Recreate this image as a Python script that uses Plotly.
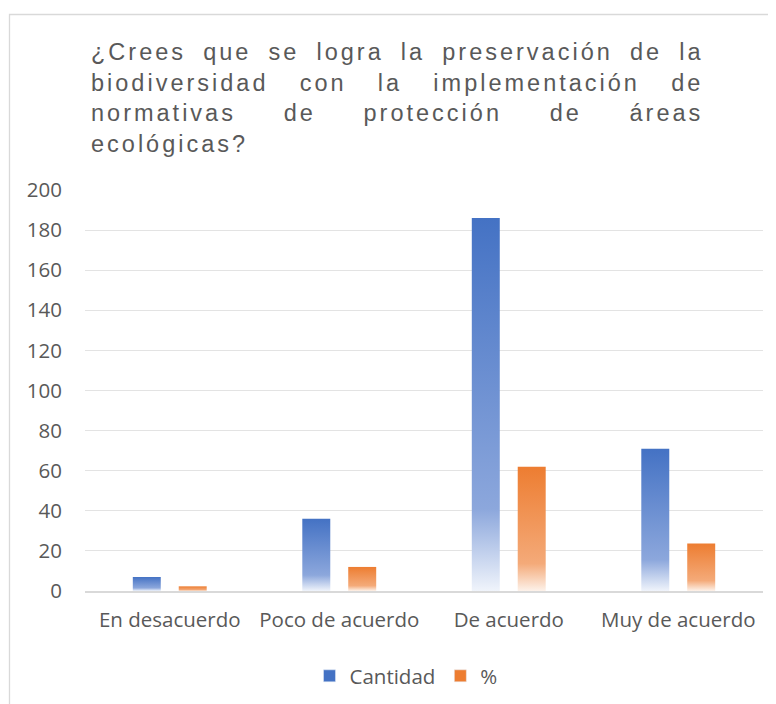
import plotly.graph_objects as go

# ---- data ----
categories = ["En desacuerdo", "Poco de acuerdo", "De acuerdo", "Muy de acuerdo"]
cantidad = [7, 36, 186, 71]
porcentaje = [2.33, 12.0, 62.0, 23.67]
y_ticks = [0, 20, 40, 60, 80, 100, 120, 140, 160, 180, 200]
series_names = ["Cantidad", "%"]

title_lines = [
    "¿Crees que se logra la preservación de la",
    "biodiversidad con la implementación de",
    "normativas de protección de áreas",
    "ecológicas?",
]

# ---- layout geometry (page pixels; the page body has an 8px margin) ----
OFF = 8
W, H = 776 - OFF, 704 - OFF
PLOT_L, PLOT_R, PLOT_T, PLOT_B = 85, 763, 190, 591
ML, MT = PLOT_L - OFF, PLOT_T - OFF
PW, PH = PLOT_R - PLOT_L, PLOT_B - PLOT_T
MR, MB = W - ML - PW, H - MT - PH

BLUE_SCALE = [[0, "rgb(240,244,251)"], [0.22, "rgb(140,167,220)"], [1, "rgb(68,114,196)"]]
ORANGE_SCALE = [[0, "rgb(253,242,234)"], [0.22, "rgb(244,170,121)"], [1, "rgb(237,125,49)"]]
BAR_W = 0.165
HALF_GAP = 0.053
TXT = "#595959"
TICK_FONT = dict(family="Open Sans, Noto Sans, sans-serif", size=20.5, color=TXT)


def px_x(p):
    return (p - PLOT_L) / PW


def px_y(p):
    return (PLOT_B - p) / PH


fig = go.Figure()

series = [(cantidad, BLUE_SCALE, -1), (porcentaje, ORANGE_SCALE, 1)]
for vals, scale, side in series:
    for i, v in enumerate(vals):
        if side < 0:
            x0, x1 = i - HALF_GAP - BAR_W, i - HALF_GAP
        else:
            x0, x1 = i + HALF_GAP, i + HALF_GAP + BAR_W
        fig.add_trace(go.Scatter(
            x=[x0, x0, x1, x1, x0], y=[0, v, v, 0, 0],
            mode="lines", line=dict(width=0), fill="toself",
            fillgradient=dict(type="vertical", colorscale=scale, start=0, stop=v),
            showlegend=False, hoverinfo="skip",
        ))

# legend entries
for name, col in zip(series_names, ["#4472C4", "#ED7D31"]):
    fig.add_trace(go.Bar(x=[None], y=[None], name=name, marker_color=col))

# title lines (justified with letter/word spacing)
word_spacing = [7.6, 21.7, 38.2, 0]
centers = [52.0, 82.7, 113.4, 144.1]
for line, ws, cy in zip(title_lines, word_spacing, centers):
    fig.add_annotation(
        xref="paper", yref="paper", x=px_x(88.5), y=px_y(cy),
        xanchor="left", yanchor="middle", showarrow=False,
        text=f'<span style="letter-spacing:3px;word-spacing:{ws}px">{line}</span>',
        font=dict(family="Liberation Sans, Arial, sans-serif", size=23.5, color=TXT),
    )

# outer chart border
fig.add_shape(type="rect", xref="paper", yref="paper",
              x0=px_x(9.5), x1=px_x(800), y0=px_y(720), y1=px_y(14.5),
              line=dict(color="#d9d9d9", width=1.3), fillcolor="rgba(0,0,0,0)", layer="below")

fig.update_layout(
    width=W, height=H,
    margin=dict(l=ML, r=MR, t=MT, b=MB, autoexpand=False),
    paper_bgcolor="white", plot_bgcolor="white",
    showlegend=True,
    legend=dict(orientation="h", x=px_x(406), xanchor="center", y=px_y(676), yanchor="middle",
                font=TICK_FONT, traceorder="normal", itemwidth=30),
    xaxis=dict(range=[-0.5, 3.5], tickmode="array", tickvals=list(range(len(categories))),
               ticktext=categories, showgrid=False, zeroline=False,
               showline=True, linecolor="#d9d9d9", linewidth=1.5,
               ticks="", tickfont=TICK_FONT, ticklabelstandoff=10, fixedrange=True),
    yaxis=dict(range=[0, 200], tickmode="array", tickvals=y_ticks,
               showgrid=True, gridcolor="#e3e3e3", gridwidth=1, zeroline=False,
               ticks="", tickfont=TICK_FONT, ticklabelstandoff=22, fixedrange=True),
    barmode="group",
)

fig.write_html("out.html")
